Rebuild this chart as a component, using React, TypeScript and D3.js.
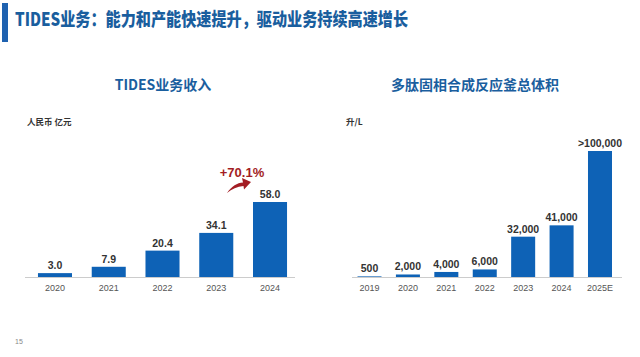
import React from "react";
import * as d3 from "d3";

const revenueYears = ["2020", "2021", "2022", "2023", "2024"];
const revenueValues = [3.0, 7.9, 20.4, 34.1, 58.0];
const revenueLabels = ["3.0", "7.9", "20.4", "34.1", "58.0"];

const volumeYears = ["2019", "2020", "2021", "2022", "2023", "2024", "2025E"];
const volumeValues = [500, 2000, 4000, 6000, 32000, 41000, 100000];
const volumeLabels = ["500", "2,000", "4,000", "6,000", "32,000", "41,000", ">100,000"];

const pageTitle = "TIDES业务：能力和产能快速提升，驱动业务持续高速增长";
const leftTitle = "TIDES业务收入";
const rightTitle = "多肽固相合成反应釜总体积";
const leftUnit = "人民币 亿元";
const rightUnit = "升/L";
const growthLabel = "+70.1%";

const BAR = "#0e62b6";
const BLUE_TEXT = "#1a5e9e";
const CJK = "'Noto Sans CJK SC', 'Noto Sans', sans-serif";
const LAT = "'Liberation Sans', Arial, sans-serif";

export default function App() {
  const baseY = 277;
  const xL = d3.scaleBand<string>().domain(revenueYears).range([28.1, 296.9]).paddingInner(0.367).paddingOuter(0.1835);
  const yL = d3.scaleLinear().domain([0, 58]).range([baseY, 202]);
  const xR = d3.scaleBand<string>().domain(volumeYears).range([350.3, 619.2]).paddingInner(0.375).paddingOuter(0.1875);
  const yR = d3.scaleLinear().domain([0, 100000]).range([baseY, 151]);

  return (
    <svg width={640} height={357} style={{ position: "absolute", left: 0, top: 0, background: "#fff" }}>
      <rect x={0} y={0} width={640} height={357} fill="#fff" />
      <rect x={2} y={3} width={6} height={39} fill="#1f62b0" />
      <text x={15} y={26} fontFamily={CJK} fontWeight={900} fontSize={18} fill={BLUE_TEXT} textLength={393} lengthAdjust="spacingAndGlyphs">
        {pageTitle}
      </text>

      {/* Left chart */}
      <text x={163} y={90} textAnchor="middle" fontFamily={CJK} fontWeight={700} fontSize={14} fill={BLUE_TEXT}>{leftTitle}</text>
      <text x={27} y={125} fontFamily={CJK} fontWeight={700} fontSize={8.5} fill="#333">{leftUnit}</text>
      <line x1={25} x2={295} y1={baseY + 0.5} y2={baseY + 0.5} stroke="#cccccc" strokeWidth={1} />
      {revenueYears.map((yr, i) => (
        <g key={yr}>
          <rect x={xL(yr)!} y={yL(revenueValues[i])} width={xL.bandwidth()} height={baseY - yL(revenueValues[i])} fill={BAR} />
          <text x={xL(yr)! + xL.bandwidth() / 2} y={yL(revenueValues[i]) - 4} textAnchor="middle" fontFamily={LAT} fontWeight={700} fontSize={10.5} fill="#333">{revenueLabels[i]}</text>
          <text x={xL(yr)! + xL.bandwidth() / 2} y={291} textAnchor="middle" fontFamily={LAT} fontSize={9} fill="#555">{yr}</text>
        </g>
      ))}
      <text x={242} y={177} textAnchor="middle" fontFamily={LAT} fontWeight={700} fontSize={13} fill="#a31d24">{growthLabel}</text>
      <path d="M227,193 C232,186 237,183 243,182.5 L242,178 L251,182 L244,189.5 L243.5,186 C237,186.5 232,189 227,193 Z" fill="#a31d24" />

      {/* Right chart */}
      <text x={475} y={90} textAnchor="middle" fontFamily={CJK} fontWeight={700} fontSize={14} fill={BLUE_TEXT}>{rightTitle}</text>
      <text x={346} y={125} fontFamily={CJK} fontWeight={700} fontSize={8.5} fill="#333">{rightUnit}</text>
      <line x1={352} x2={622} y1={baseY + 0.5} y2={baseY + 0.5} stroke="#cccccc" strokeWidth={1} />
      {volumeYears.map((yr, i) => (
        <g key={yr}>
          <rect x={xR(yr)!} y={yR(volumeValues[i])} width={xR.bandwidth()} height={baseY - yR(volumeValues[i])} fill={BAR} />
          <text x={xR(yr)! + xR.bandwidth() / 2} y={yR(volumeValues[i]) - 4} textAnchor="middle" fontFamily={LAT} fontWeight={700} fontSize={10.5} fill="#333">{volumeLabels[i]}</text>
          <text x={xR(yr)! + xR.bandwidth() / 2} y={291} textAnchor="middle" fontFamily={LAT} fontSize={9} fill="#555">{yr}</text>
        </g>
      ))}

      <text x={15} y={344} fontFamily={LAT} fontSize={7} fill="#888">15</text>
    </svg>
  );
}
